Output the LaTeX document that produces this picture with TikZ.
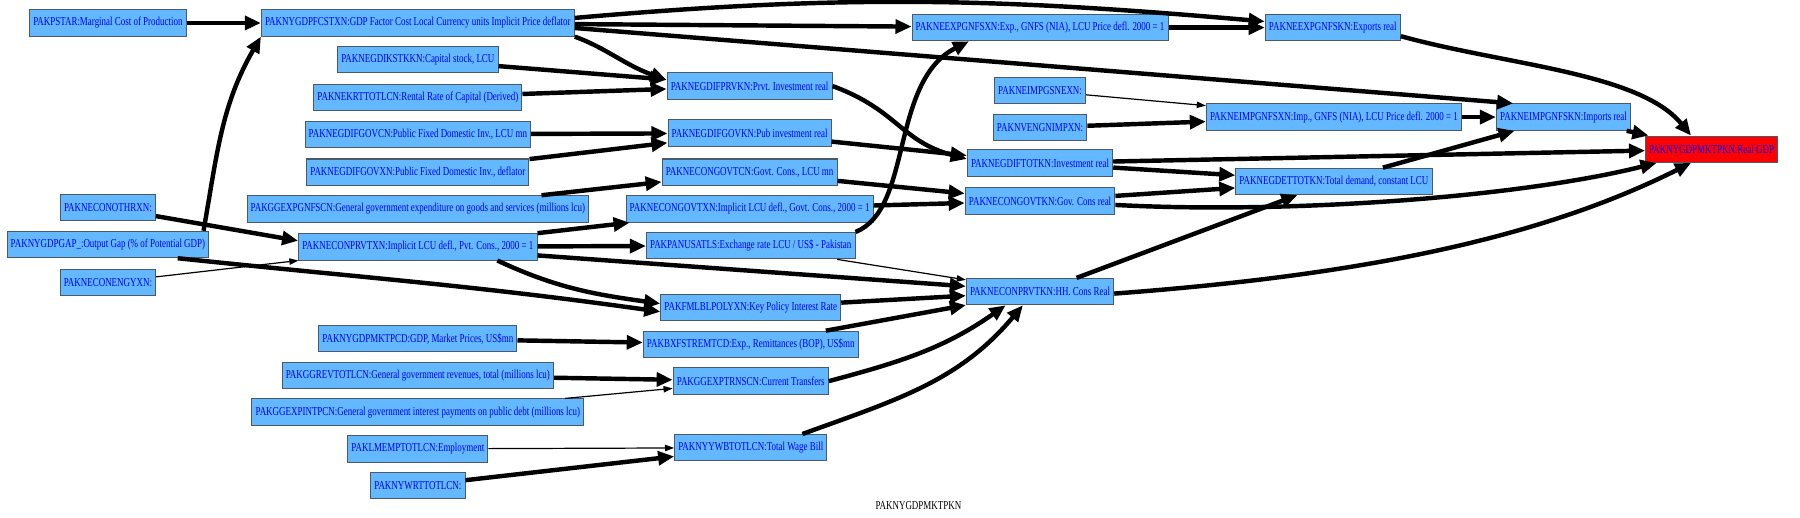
\documentclass[tikz,border=0pt]{standalone}
\usepackage{fontspec}
\usepackage{tikz}
\usetikzlibrary{arrows.meta}
\newfontfamily\gvfont[FakeStretch=0.74]{Liberation Serif}
\definecolor{varfill}{HTML}{63B8FF}
\definecolor{varline}{HTML}{4A5A6A}
\definecolor{vartext}{HTML}{0000FF}

\begin{document}
\begin{tikzpicture}[x=0.02cm, y=0.02cm,
  var/.style={draw=varline, fill=varfill, text=vartext, font=\gvfont\fontsize{6}{7}\selectfont, inner xsep=1.8pt, inner ysep=0pt, minimum height=0.46cm, line width=0.5pt},
  target/.style={var, fill=red},
  link/.style={-{Triangle[length=0.28cm, width=0.24cm]}, line width=2.2pt},
  thinlink/.style={-{Triangle[length=0.16cm, width=0.11cm]}, line width=0.6pt}
]
  \useasboundingbox (0,0) rectangle (1568,451);

  \node[var] (pstar) at (94,431) {PAKPSTAR:Marginal Cost of Production};
  \node[var] (othrxn) at (94,270) {PAKNECONOTHRXN:};
  \node[var] (gap) at (94,238) {PAKNYGDPGAP\_:Output Gap (\% of Potential GDP)};
  \node[var] (engyxn) at (94,205) {PAKNECONENGYXN:};

  \node[var] (fcstxn) at (364,431) {PAKNYGDPFCSTXN:GDP Factor Cost Local Currency units Implicit Price deflator};
  \node[var] (ikstkkn) at (364,399) {PAKNEGDIKSTKKN:Capital stock, LCU};
  \node[var] (krttotlcn) at (364,366) {PAKNEKRTTOTLCN:Rental Rate of Capital (Derived)};
  \node[var] (difgovcn) at (364,334) {PAKNEGDIFGOVCN:Public Fixed Domestic Inv., LCU mn};
  \node[var] (difgovxn) at (364,301) {PAKNEGDIFGOVXN:Public Fixed Domestic Inv., deflator};
  \node[var] (gnfscn) at (364,269) {PAKGGEXPGNFSCN:General government expenditure on goods and services (millions lcu)};
  \node[var] (prvtxn) at (364,236) {PAKNECONPRVTXN:Implicit LCU defl., Pvt. Cons., 2000 = 1};
  \node[var] (mktpcd) at (364,156) {PAKNYGDPMKTPCD:GDP, Market Prices, US\$mn};
  \node[var] (revtotlcn) at (364,124) {PAKGGREVTOTLCN:General government revenues, total (millions lcu)};
  \node[var] (intpcn) at (364,92) {PAKGGEXPINTPCN:General government interest payments on public debt (millions lcu)};
  \node[var] (lmemp) at (364,60) {PAKLMEMPTOTLCN:Employment};
  \node[var] (nywrt) at (364,28) {PAKNYWRTTOTLCN:};

  \node[var] (difprvkn) at (653,376) {PAKNEGDIFPRVKN:Prvt. Investment real};
  \node[var] (difgovkn) at (653,335) {PAKNEGDIFGOVKN:Pub investment real};
  \node[var] (congovtcn) at (653,301) {PAKNECONGOVTCN:Govt. Cons., LCU mn};
  \node[var] (congovtxn) at (653,269) {PAKNECONGOVTXN:Implicit LCU defl., Govt. Cons., 2000 = 1};
  \node[var] (panusatls) at (654,237) {PAKPANUSATLS:Exchange rate LCU / US\$ - Pakistan};
  \node[var] (policy) at (654,183) {PAKFMLBLPOLYXN:Key Policy Interest Rate};
  \node[var] (remit) at (654,151) {PAKBXFSTREMTCD:Exp., Remittances (BOP), US\$mn};
  \node[var] (trnscn) at (654,119) {PAKGGEXPTRNSCN:Current Transfers};
  \node[var] (wagebill) at (654,61) {PAKNYYWBTOTLCN:Total Wage Bill};

  \node[var] (expxn) at (906,427) {PAKNEEXPGNFSXN:Exp., GNFS (NIA), LCU Price defl. 2000 = 1};
  \node[var] (impgsnexn) at (906,372) {PAKNEIMPGSNEXN:};
  \node[var] (nvengn) at (906,340) {PAKNVENGNIMPXN:};
  \node[var] (diftotkn) at (906,309) {PAKNEGDIFTOTKN:Investment real};
  \node[var] (congovtkn) at (906,276) {PAKNECONGOVTKN:Gov. Cons real};
  \node[var] (conprvtkn) at (906,197) {PAKNECONPRVTKN:HH. Cons Real};

  \node[var] (expkn) at (1161,427) {PAKNEEXPGNFSKN:Exports real};
  \node[var] (impxn) at (1162,349) {PAKNEIMPGNFSXN:Imp., GNFS (NIA), LCU Price defl. 2000 = 1};
  \node[var] (gdettotkn) at (1162,293) {PAKNEGDETTOTKN:Total demand, constant LCU};
  \node[var] (impkn) at (1362,349) {PAKNEIMPGNFSKN:Imports real};
  \node[target] (rgdp) at (1491,321) {PAKNYGDPMKTPKN:Real GDP};

  \node[font=\gvfont\fontsize{6}{7}\selectfont] (title) at (800,11) {PAKNYGDPMKTPKN};

  \draw[link] (pstar) -- (fcstxn);
  \draw[link] ([xshift=-0.1cm]gap.north east) to[out=80, in=240] (fcstxn.south west);
  \draw[link] (othrxn) -- ([yshift=3pt]prvtxn.west);
  \draw[thinlink] (engyxn) -- (prvtxn);
  \draw[link] ([xshift=-0.55cm]gap.south east) to[out=-6, in=172] ([yshift=-2pt]policy.west);

  \draw[link] ([yshift=2.5pt]fcstxn.east) to[out=5, in=175] ([yshift=3pt]expkn.west);
  \draw[link] (fcstxn) -- (expxn);
  \draw[link] ([yshift=-2.5pt]fcstxn.east) -- ([xshift=0.3cm]impkn.north west);
  \draw[link] (fcstxn.south east) .. controls +(-20:0.6cm) and +(160:0.8cm) .. ([yshift=3pt]difprvkn.west);
  \draw[link] (ikstkkn) -- (difprvkn);
  \draw[link] (krttotlcn) -- (difprvkn);
  \draw[link] (difgovcn) -- (difgovkn);
  \draw[link] (difgovxn) -- (difgovkn);
  \draw[link] (gnfscn) -- (congovtcn);
  \draw[link] (prvtxn) -- (congovtxn);
  \draw[link] (prvtxn) -- (panusatls);
  \draw[link] ([xshift=-0.7cm]prvtxn.south east) to[out=-25, in=172] ([yshift=2pt]policy.west);
  \draw[link] (prvtxn) -- (conprvtkn);
  \draw[link] (mktpcd) -- (remit);
  \draw[link] (revtotlcn) -- (trnscn);
  \draw[thinlink] (intpcn) -- (trnscn);
  \draw[thinlink] (lmemp) -- (wagebill);
  \draw[link] (nywrt) -- (wagebill);

  \draw[link] (difprvkn.east) .. controls +(-20:1.2cm) and +(165:1.2cm) .. ([yshift=2pt]diftotkn.west);
  \draw[link] (difgovkn) -- (diftotkn);
  \draw[link] (congovtcn) -- (congovtkn);
  \draw[link] (congovtxn) -- (congovtkn);
  \draw[link] (panusatls.north east) .. controls +(50,20) and +(-69,-35) .. ([xshift=1cm]expxn.south west);
  \draw[thinlink] (panusatls) -- (conprvtkn);
  \draw[link] (policy) -- (conprvtkn);
  \draw[link] (remit) -- (conprvtkn);
  \draw[link] (trnscn.east) to[out=15, in=215] ([xshift=-0.6cm]conprvtkn.south);
  \draw[link] ([xshift=0.9cm]wagebill.north) to[out=20, in=230] ([xshift=-0.3cm]conprvtkn.south);

  \draw[link] (expxn) -- (expkn);
  \draw[thinlink] (impgsnexn) -- (impxn);
  \draw[link] (nvengn) -- (impxn);
  \draw[link] (diftotkn) -- (rgdp);
  \draw[link] (diftotkn) -- (gdettotkn);
  \draw[link] (congovtkn) -- (gdettotkn);
  \draw[link] ([yshift=-2pt]congovtkn.east) .. controls +(150,-8) and +(-120,-30) .. ([xshift=0.2cm]rgdp.south west);
  \draw[link] (conprvtkn) -- (gdettotkn);
  \draw[link] ([yshift=-1pt]conprvtkn.east) .. controls +(200,15) and +(-140,-70) .. ([xshift=0.8cm]rgdp.south west);
  \draw[link] ([yshift=-0.15cm]expkn.east) .. controls +(90,-25) and +(-45,55) .. ([xshift=0.8cm]rgdp.north west);
  \draw[link] (impxn) -- (impkn);
  \draw[link] (gdettotkn) -- (impkn);
  \draw[link] (impkn) -- (rgdp);
\end{tikzpicture}
\end{document}
